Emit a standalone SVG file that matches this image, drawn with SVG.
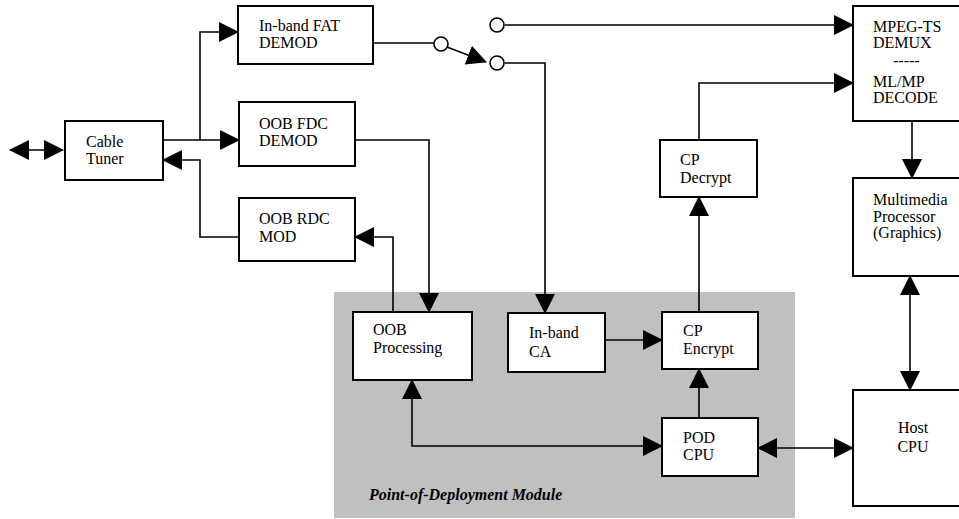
<svg xmlns="http://www.w3.org/2000/svg" width="959" height="519" viewBox="0 0 959 519">
<defs>
<marker id="ah" markerUnits="userSpaceOnUse" markerWidth="20" markerHeight="20" refX="19" refY="10" orient="auto-start-reverse" viewBox="0 0 20 20">
<path d="M0,0 L20,10 L0,20 z" fill="#000"/>
</marker>
</defs>
<g id="pod-module">
<rect x="334" y="292" width="461" height="226" fill="#c0c0c0"/>
<text x="369" y="500" font-family="Liberation Serif, Times New Roman, serif" font-size="16" font-weight="bold" font-style="italic">Point-of-Deployment Module</text>
</g>
<g id="connectors" fill="none" stroke="#000" stroke-width="1.6">
<path d="M10,150 H63" marker-start="url(#ah)" marker-end="url(#ah)"/>
<path d="M163,140 H239" marker-end="url(#ah)"/>
<path d="M200,140 V32 H238" marker-end="url(#ah)"/>
<path d="M239,237 H200 V160 H163" marker-end="url(#ah)"/>
<path d="M355,140 H429 V312" marker-end="url(#ah)"/>
<path d="M393,312 V237 H355" marker-end="url(#ah)"/>
<path d="M373,43 H434"/>
<path d="M447,47 L486,62" marker-end="url(#ah)"/>
<path d="M505,25 H853" marker-end="url(#ah)"/>
<path d="M505,63 H545 V313" marker-end="url(#ah)"/>
<path d="M605,340 H662" marker-end="url(#ah)"/>
<path d="M699,312 V197" marker-end="url(#ah)"/>
<path d="M699,140 V83 H853" marker-end="url(#ah)"/>
<path d="M912,121 V178" marker-end="url(#ah)"/>
<path d="M910,276 V390" marker-start="url(#ah)" marker-end="url(#ah)"/>
<path d="M699,418 V369" marker-end="url(#ah)"/>
<path d="M412,380 V446 H662" marker-start="url(#ah)" marker-end="url(#ah)"/>
<path d="M758,448 H853" marker-start="url(#ah)" marker-end="url(#ah)"/>
<circle fill="#fff" cx="441" cy="44" r="7"/>
<circle fill="#fff" cx="497" cy="25" r="7"/>
<circle fill="#fff" cx="497" cy="63" r="7"/>
</g>
<g font-family="Liberation Serif, Times New Roman, serif" font-size="16" fill="#000">
<g id="cable-tuner"><rect fill="#fff" stroke="#000" stroke-width="2" x="65" y="121" width="98" height="59"/><text x="86" y="147">Cable</text><text x="86" y="164">Tuner</text></g>
<g id="fat-demod"><rect fill="#fff" stroke="#000" stroke-width="2" x="238" y="6" width="135" height="58"/><text x="259" y="31">In-band FAT</text><text x="259" y="48">DEMOD</text></g>
<g id="fdc-demod"><rect fill="#fff" stroke="#000" stroke-width="2" x="239" y="102" width="116" height="64"/><text x="259" y="129">OOB FDC</text><text x="259" y="146">DEMOD</text></g>
<g id="rdc-mod"><rect fill="#fff" stroke="#000" stroke-width="2" x="239" y="198" width="116" height="63"/><text x="259" y="224">OOB RDC</text><text x="259" y="242">MOD</text></g>
<g id="mpeg"><rect fill="#fff" stroke="#000" stroke-width="2" x="853" y="6" width="120" height="115"/><text x="873" y="32">MPEG-TS</text><text x="873" y="48">DEMUX</text><text x="893" y="66">-----</text><text x="873" y="87">ML/MP</text><text x="873" y="103">DECODE</text></g>
<g id="cp-decrypt"><rect fill="#fff" stroke="#000" stroke-width="2" x="660" y="140" width="97" height="57"/><text x="680" y="165">CP</text><text x="680" y="183">Decrypt</text></g>
<g id="multimedia"><rect fill="#fff" stroke="#000" stroke-width="2" x="853" y="178" width="120" height="98"/><text x="873" y="205">Multimedia</text><text x="873" y="222">Processor</text><text x="873" y="238">(Graphics)</text></g>
<g id="oob-processing"><rect fill="#fff" stroke="#000" stroke-width="2" x="353" y="312" width="119" height="68"/><text x="373" y="335">OOB</text><text x="373" y="353">Processing</text></g>
<g id="inband-ca"><rect fill="#fff" stroke="#000" stroke-width="2" x="508" y="313" width="97" height="59"/><text x="529" y="338">In-band</text><text x="529" y="357">CA</text></g>
<g id="cp-encrypt"><rect fill="#fff" stroke="#000" stroke-width="2" x="662" y="312" width="96" height="57"/><text x="683" y="336">CP</text><text x="683" y="354">Encrypt</text></g>
<g id="pod-cpu"><rect fill="#fff" stroke="#000" stroke-width="2" x="662" y="418" width="96" height="58"/><text x="683" y="443">POD</text><text x="683" y="460">CPU</text></g>
<g id="host-cpu"><rect fill="#fff" stroke="#000" stroke-width="2" x="853" y="390" width="120" height="116"/><text x="913" y="433" text-anchor="middle">Host</text><text x="913" y="452" text-anchor="middle">CPU</text></g>
</g>
</svg>
